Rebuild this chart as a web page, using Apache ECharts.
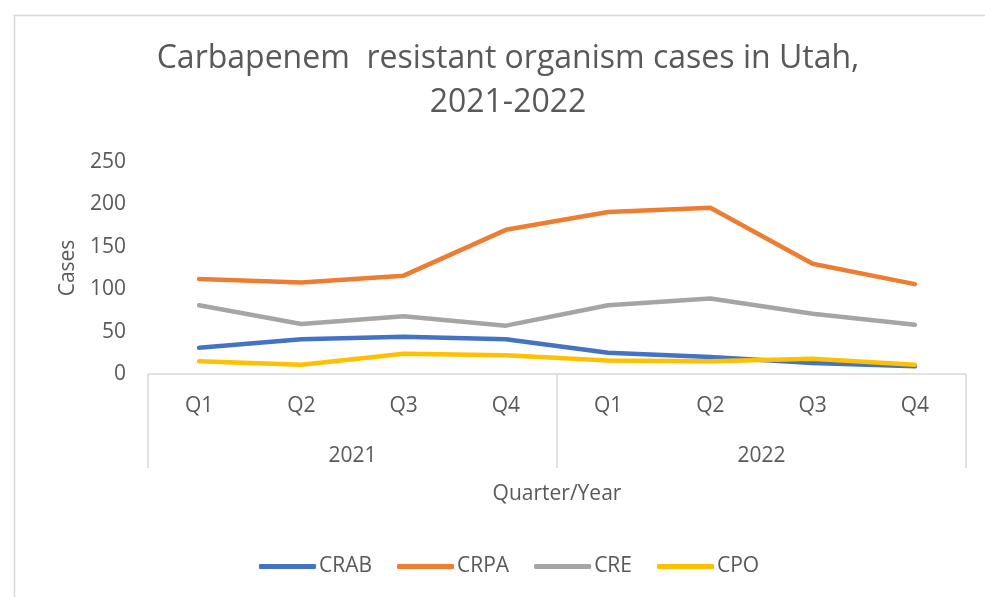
<!DOCTYPE html>
<html>
<head>
<meta charset="utf-8">
<script src="https://cdn.jsdelivr.net/npm/echarts@6/dist/echarts.min.js"></script>
<style>html,body{margin:0;padding:0;background:#fff;}#c{width:985px;height:597px;}</style>
</head>
<body>
<div id="c"></div>
<script>
const quarters = ['Q1','Q2','Q3','Q4','Q1','Q2','Q3','Q4'];
const years = ['2021','2022'];
const yTicks = [0, 50, 100, 150, 200, 250];
const crab = [31, 41, 44, 41, 25, 20, 13, 9];
const crpa = [112, 108, 116, 170, 191, 196, 130, 106];
const cre  = [81, 59, 68, 57, 81, 89, 71, 58];
const cpo  = [15, 11, 24, 22, 16, 15, 18, 11];

const FONT = '"Open Sans"';
const TXT = '#595959';
const GRID = '#d9d9d9';

function line(name, data, color) {
  return {
    name, type: 'line', data, xAxisIndex: 0, yAxisIndex: 0,
    symbol: 'none', smooth: false,
    lineStyle: { color, width: 4.5, cap: 'round', join: 'round' },
    itemStyle: { color },
    emphasis: { disabled: true }
  };
}

const chart = echarts.init(document.getElementById('c'));
chart.setOption({
  animation: false,
  backgroundColor: '#fff',
  textStyle: { fontFamily: FONT },
  graphic: [{
    type: 'rect', left: 12, top: 13,
    shape: { width: 1000, height: 620 },
    style: { fill: 'none', stroke: GRID, lineWidth: 1.5 }, silent: true, z: -1
  }],
  title: {
    text: 'Carbapenem  resistant organism cases in Utah,\n2021-2022',
    left: 503, textAlign: 'center', top: 32,
    textStyle: { fontFamily: FONT, fontSize: 32, fontWeight: 'normal', color: TXT, lineHeight: 44 }
  },
  legend: {
    bottom: 15, left: 254,
    itemWidth: 57, itemHeight: 5, itemGap: 25,
    icon: 'roundRect',
    textStyle: { fontFamily: FONT, fontSize: 21, color: TXT, padding: [0, 0, 0, -2] },
    data: ['CRAB', 'CRPA', 'CRE', 'CPO']
  },
  grid: { left: 148, right: 19, top: 162, bottom: 223, containLabel: false },
  xAxis: [{
    type: 'category', data: quarters, position: 'bottom', boundaryGap: true,
    axisLine: { show: true, lineStyle: { color: GRID, width: 1.5 } },
    axisTick: { show: false },
    axisLabel: { margin: 22, fontSize: 21, color: TXT, fontFamily: FONT, interval: 0 },
    splitLine: { show: false }
  }, {
    type: 'category', data: years, position: 'bottom', boundaryGap: true,
    axisLine: { show: false },
    axisTick: { show: true, length: 94, lineStyle: { color: GRID, width: 1.5 } },
    axisLabel: { margin: 72, fontSize: 21, color: TXT, fontFamily: FONT },
    name: 'Quarter/Year', nameLocation: 'middle', nameGap: 110,
    nameTextStyle: { fontSize: 21, color: TXT, fontFamily: FONT },
    splitLine: { show: false }
  }],
  yAxis: {
    type: 'value', min: yTicks[0], max: yTicks[yTicks.length - 1], interval: 50,
    axisLine: { show: false }, axisTick: { show: false },
    splitLine: { show: false },
    axisLabel: { margin: 22, fontSize: 21, color: TXT, fontFamily: FONT },
    name: 'Cases', nameLocation: 'middle', nameGap: 69, nameRotate: 90,
    nameTextStyle: { fontSize: 21, color: TXT, fontFamily: FONT }
  },
  series: [
    line('CRAB', crab, '#4472C4'),
    line('CRPA', crpa, '#ED7D31'),
    line('CRE', cre, '#A5A5A5'),
    line('CPO', cpo, '#FFC000')
  ]
});
</script>
</body>
</html>
